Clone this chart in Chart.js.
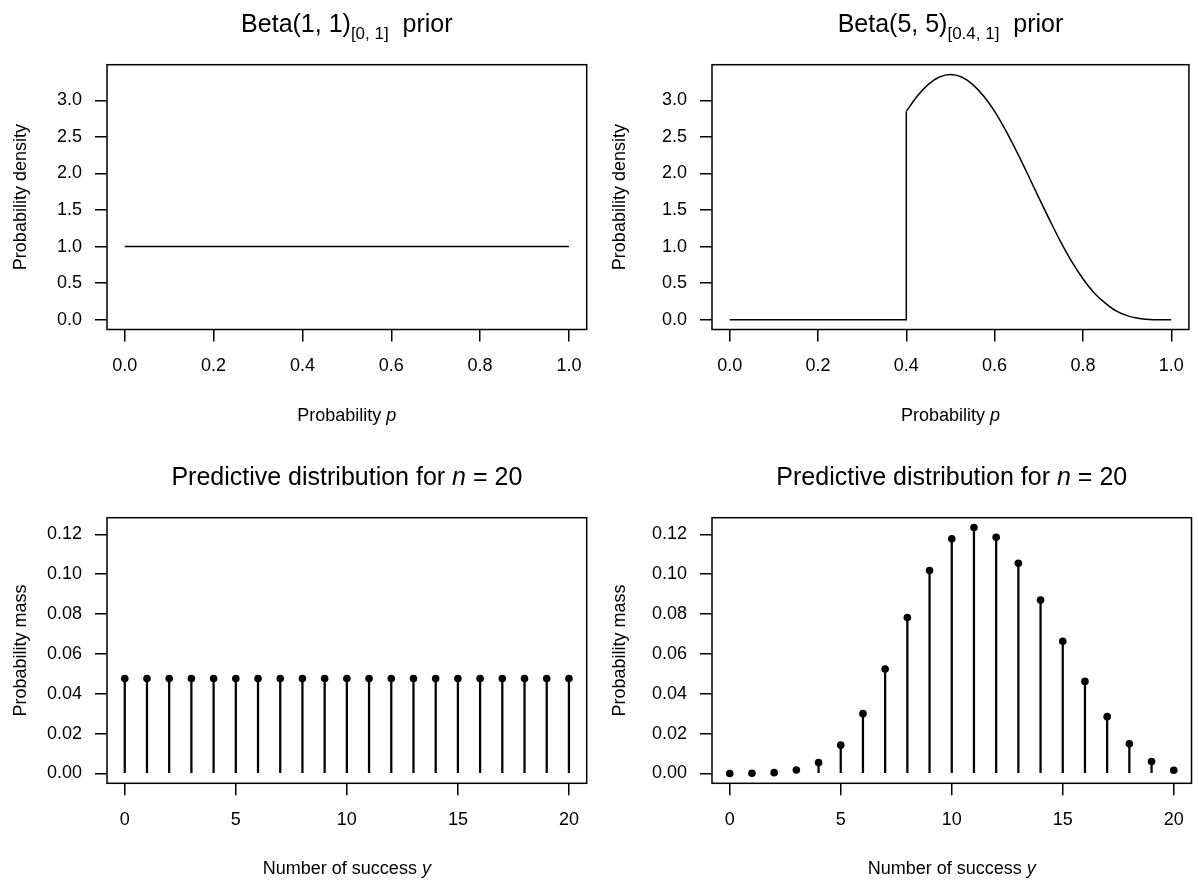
<!DOCTYPE html>
<html>
<head>
<meta charset="utf-8">
<script src="https://cdn.jsdelivr.net/npm/chart.js@4.4.0/dist/chart.umd.min.js"></script>
<style>
body { margin: 0; background: #fff; }
#wrap { position: relative; width: 1198px; height: 885px; }
canvas { position: absolute; }
</style>
</head>
<body>
<div id="wrap">
<canvas id="c1" width="599" height="443" style="left:0px;top:0px"></canvas>
<canvas id="c2" width="599" height="443" style="left:599px;top:0px"></canvas>
<canvas id="c3" width="599" height="442" style="left:0px;top:443px"></canvas>
<canvas id="c4" width="599" height="442" style="left:599px;top:443px"></canvas>
</div>
<script>
// prior densities
var unifX = [0, 1];
var unifY = [1, 1];
var zeroX = [0, 0.4, 0.4];
var zeroY = [0, 0, 2.85];
var truncX = [0.4, 0.425, 0.45, 0.475, 0.5, 0.525, 0.55, 0.575, 0.6, 0.625, 0.65, 0.675, 0.7,
              0.725, 0.75, 0.775, 0.8, 0.825, 0.85, 0.875, 0.9, 0.925, 0.95, 0.975, 1];
var truncY = [2.85, 3.06, 3.22, 3.32, 3.355, 3.32, 3.22, 3.06, 2.85, 2.59, 2.30, 1.99, 1.67,
              1.36, 1.06, 0.79, 0.56, 0.37, 0.23, 0.12, 0.056, 0.02, 0.004, 0.0003, 0];
var pTicks = [0, 0.2, 0.4, 0.6, 0.8, 1];
var densTicks = [0, 0.5, 1, 1.5, 2, 2.5, 3];

// predictive distributions
var succ = [0, 1, 2, 3, 4, 5, 6, 7, 8, 9, 10, 11, 12, 13, 14, 15, 16, 17, 18, 19, 20];
var massUnif = [0.0476, 0.0476, 0.0476, 0.0476, 0.0476, 0.0476, 0.0476, 0.0476, 0.0476, 0.0476, 0.0476,
                0.0476, 0.0476, 0.0476, 0.0476, 0.0476, 0.0476, 0.0476, 0.0476, 0.0476, 0.0476];
var massTrunc = [0.0000, 0.0001, 0.0004, 0.0017, 0.0055, 0.0142, 0.0300, 0.0524, 0.0782, 0.1018, 0.1178,
                 0.1234, 0.1185, 0.1055, 0.0870, 0.0663, 0.0462, 0.0285, 0.0149, 0.0060, 0.0016];
var yTicks = [0, 5, 10, 15, 20];
var massTicks = [0, 0.02, 0.04, 0.06, 0.08, 0.1, 0.12];

var FONT = '"Liberation Sans", Arial, Helvetica, sans-serif';
Chart.defaults.font.family = FONT;
Chart.defaults.color = '#000';

function pts(xs, ys) {
    var out = [];
    for (var i = 0; i < xs.length; i++) out.push({x: xs[i], y: ys[i]});
    return out;
}

function drawParts(ctx, parts, cx, y) {
    var w = 0;
    parts.forEach(function (p) {
        ctx.font = p.f;
        w += ctx.measureText(p.t).width;
    });
    var x = cx - w / 2;
    parts.forEach(function (p) {
        ctx.font = p.f;
        ctx.fillText(p.t, x, y + (p.dy || 0));
        x += ctx.measureText(p.t).width;
    });
}

// box round the plot region plus R-like titles
var rPlot = {
    id: 'rplot',
    afterDraw: function (chart, args, o) {
        var ctx = chart.ctx, a = chart.chartArea;
        ctx.save();
        ctx.strokeStyle = '#000';
        ctx.lineWidth = 1.5;
        ctx.strokeRect(a.left, a.top, a.right - a.left, a.bottom - a.top);
        ctx.fillStyle = '#000';
        ctx.textBaseline = 'alphabetic';
        ctx.textAlign = 'left';
        var cx = (a.left + a.right) / 2;
        drawParts(ctx, o.title, cx, a.top - 33);
        drawParts(ctx, o.xTitle, cx, a.bottom + 91);
        ctx.translate(26, (a.top + a.bottom) / 2);
        ctx.rotate(-Math.PI / 2);
        drawParts(ctx, o.yTitle, 0, 0);
        ctx.restore();
    }
};

function axis(min, max, ticks, dec, size, isX) {
    return {
        type: 'linear',
        min: min,
        max: max,
        offset: false,
        afterBuildTicks: function (s) {
            s.ticks = ticks.map(function (v) { return {value: v}; });
        },
        afterFit: function (s) {
            if (isX) s.height = size; else s.width = size;
        },
        ticks: {
            autoSkip: false,
            maxRotation: 0,
            padding: isX ? 14 : 13,
            font: {size: 18},
            callback: function (v) { return v.toFixed(dec); }
        },
        grid: {
            offset: false,
            drawOnChartArea: false,
            drawTicks: true,
            tickLength: 12,
            color: '#000',
            lineWidth: 1.5
        },
        border: {display: false}
    };
}

function makeChart(id, box, datasets, xs, ys, texts) {
    var cv = document.getElementById(id);
    var W = cv.width, H = cv.height;
    return new Chart(cv, {
        type: 'scatter',
        data: {datasets: datasets},
        options: {
            responsive: false,
            animation: false,
            events: [],
            layout: {padding: {left: 0, top: box.top, right: W - box.right, bottom: 0}},
            plugins: {
                legend: {display: false},
                tooltip: {enabled: false},
                rplot: texts
            },
            scales: {
                x: axis(xs[0], xs[1], xs[2], xs[3], H - box.bottom, true),
                y: axis(ys[0], ys[1], ys[2], ys[3], box.left, false)
            }
        },
        plugins: [rPlot]
    });
}

var tf = '25px ' + FONT, sf = '17px ' + FONT, af = '18px ' + FONT, ai = 'italic 18px ' + FONT;

function lineDs(data, mono) {
    return {type: 'scatter', data: data, showLine: true, pointRadius: 0, borderColor: '#000',
            borderWidth: 1.5, cubicInterpolationMode: mono ? 'monotone' : 'default', tension: 0};
}
function stemDs(data) {
    return {type: 'bar', data: data, barThickness: 1.6, backgroundColor: '#000', borderWidth: 0, grouped: false};
}
function dotDs(data) {
    return {type: 'scatter', data: data, pointRadius: 3.8, backgroundColor: '#000', borderWidth: 0};
}

var xP = [-0.04, 1.04, pTicks, 1];
var yD = [-0.1342, 3.489, densTicks, 1];
var xY = [-0.8, 20.8, yTicks, 0];
var yM = [-0.00494, 0.12834, massTicks, 2];

var densTitle = [{t: 'Probability density', f: af}];
var pTitle = [{t: 'Probability ', f: af}, {t: 'p', f: ai}];
var massTitle = [{t: 'Probability mass', f: af}];
var sTitle = [{t: 'Number of success ', f: af}, {t: 'y', f: ai}];
var predTitle = [{t: 'Predictive distribution for ', f: tf}, {t: 'n', f: 'italic 25px ' + FONT}, {t: ' = 20', f: tf}];

makeChart('c1', {left: 107, top: 64.7, right: 586.7, bottom: 329.5},
    [lineDs(pts(unifX, unifY), false)], xP, yD,
    {title: [{t: 'Beta(1, 1)', f: tf}, {t: '[0, 1]', f: sf, dy: 7}, {t: '  prior', f: tf}],
     xTitle: pTitle, yTitle: densTitle});

makeChart('c2', {left: 113, top: 64.7, right: 592.7, bottom: 329.5},
    [lineDs(pts(zeroX, zeroY), false), lineDs(pts(truncX, truncY), true)], xP, yD,
    {title: [{t: 'Beta(5, 5)', f: tf}, {t: '[0.4, 1]', f: sf, dy: 7}, {t: '  prior', f: tf}],
     xTitle: pTitle, yTitle: densTitle});

makeChart('c3', {left: 107, top: 74.7, right: 586.7, bottom: 340.3},
    [stemDs(pts(succ, massUnif)), dotDs(pts(succ, massUnif))], xY, yM,
    {title: predTitle, xTitle: sTitle, yTitle: massTitle});

makeChart('c4', {left: 113, top: 74.7, right: 592.7, bottom: 340.3},
    [stemDs(pts(succ, massTrunc)), dotDs(pts(succ, massTrunc))], xY, yM,
    {title: predTitle, xTitle: sTitle, yTitle: massTitle});
</script>
</body>
</html>
